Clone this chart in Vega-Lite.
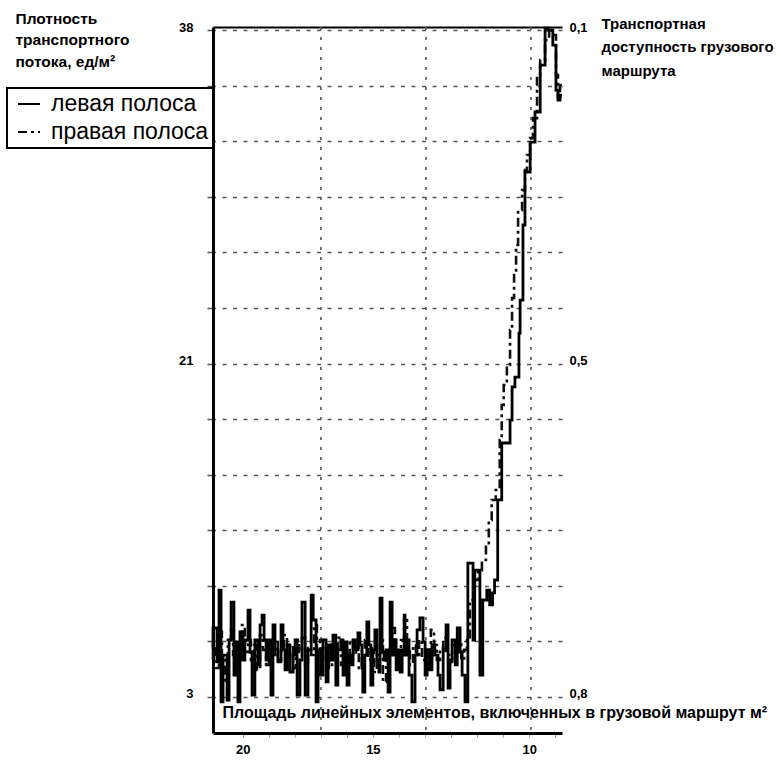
{
  "$schema": "https://vega.github.io/schema/vega-lite/v6.json",
  "width": 349,
  "height": 706,
  "autosize": {"type": "none"},
  "padding": {"left": 213, "top": 27, "right": 219, "bottom": 29},
  "background": "white",
  "config": {"view": {"stroke": null}, "font": "Liberation Sans"},
  "datasets": {
    "vgrid": [{"area": 17.25}, {"area": 13.59}, {"area": 9.93}],
    "lanes": [
      {"area": 21.01, "density": 5.47, "lane": "левая полоса"},
      {"area": 20.87, "density": 6.62, "lane": "левая полоса"},
      {"area": 20.80, "density": 4.84, "lane": "левая полоса"},
      {"area": 20.73, "density": 8.61, "lane": "левая полоса"},
      {"area": 20.66, "density": 2.74, "lane": "левая полоса"},
      {"area": 20.52, "density": 5.20, "lane": "левая полоса"},
      {"area": 20.45, "density": 2.84, "lane": "левая полоса"},
      {"area": 20.38, "density": 5.99, "lane": "левая полоса"},
      {"area": 20.28, "density": 7.98, "lane": "левая полоса"},
      {"area": 20.21, "density": 4.15, "lane": "левая полоса"},
      {"area": 20.14, "density": 5.89, "lane": "левая полоса"},
      {"area": 20.07, "density": 2.74, "lane": "левая полоса"},
      {"area": 19.97, "density": 6.41, "lane": "левая полоса"},
      {"area": 19.90, "density": 4.94, "lane": "левая полоса"},
      {"area": 19.79, "density": 5.99, "lane": "левая полоса"},
      {"area": 19.72, "density": 7.56, "lane": "левая полоса"},
      {"area": 19.65, "density": 5.36, "lane": "левая полоса"},
      {"area": 19.55, "density": 3.10, "lane": "левая полоса"},
      {"area": 19.44, "density": 5.99, "lane": "левая полоса"},
      {"area": 19.37, "density": 4.68, "lane": "левая полоса"},
      {"area": 19.30, "density": 6.78, "lane": "левая полоса"},
      {"area": 19.23, "density": 7.30, "lane": "левая полоса"},
      {"area": 19.16, "density": 5.99, "lane": "левая полоса"},
      {"area": 19.09, "density": 4.94, "lane": "левая полоса"},
      {"area": 18.99, "density": 5.99, "lane": "левая полоса"},
      {"area": 18.92, "density": 3.10, "lane": "левая полоса"},
      {"area": 18.85, "density": 6.78, "lane": "левая полоса"},
      {"area": 18.75, "density": 5.47, "lane": "левая полоса"},
      {"area": 18.64, "density": 4.94, "lane": "левая полоса"},
      {"area": 18.57, "density": 6.78, "lane": "левая полоса"},
      {"area": 18.50, "density": 5.47, "lane": "левая полоса"},
      {"area": 18.43, "density": 4.42, "lane": "левая полоса"},
      {"area": 18.33, "density": 5.73, "lane": "левая полоса"},
      {"area": 18.22, "density": 4.31, "lane": "левая полоса"},
      {"area": 18.15, "density": 5.20, "lane": "левая полоса"},
      {"area": 18.08, "density": 5.99, "lane": "левая полоса"},
      {"area": 17.98, "density": 3.10, "lane": "левая полоса"},
      {"area": 17.91, "density": 4.94, "lane": "левая полоса"},
      {"area": 17.80, "density": 7.98, "lane": "левая полоса"},
      {"area": 17.70, "density": 3.10, "lane": "левая полоса"},
      {"area": 17.59, "density": 5.47, "lane": "левая полоса"},
      {"area": 17.52, "density": 8.35, "lane": "левая полоса"},
      {"area": 17.42, "density": 7.04, "lane": "левая полоса"},
      {"area": 17.35, "density": 2.74, "lane": "левая полоса"},
      {"area": 17.25, "density": 5.47, "lane": "левая полоса"},
      {"area": 17.18, "density": 4.15, "lane": "левая полоса"},
      {"area": 17.07, "density": 5.99, "lane": "левая полоса"},
      {"area": 17.00, "density": 3.79, "lane": "левая полоса"},
      {"area": 16.90, "density": 5.73, "lane": "левая полоса"},
      {"area": 16.83, "density": 4.94, "lane": "левая полоса"},
      {"area": 16.73, "density": 6.25, "lane": "левая полоса"},
      {"area": 16.66, "density": 3.63, "lane": "левая полоса"},
      {"area": 16.55, "density": 5.47, "lane": "левая полоса"},
      {"area": 16.48, "density": 5.99, "lane": "левая полоса"},
      {"area": 16.41, "density": 4.15, "lane": "левая полоса"},
      {"area": 16.34, "density": 5.89, "lane": "левая полоса"},
      {"area": 16.27, "density": 3.63, "lane": "левая полоса"},
      {"area": 16.20, "density": 5.20, "lane": "левая полоса"},
      {"area": 16.13, "density": 4.68, "lane": "левая полоса"},
      {"area": 16.06, "density": 5.99, "lane": "левая полоса"},
      {"area": 15.96, "density": 5.47, "lane": "левая полоса"},
      {"area": 15.89, "density": 6.36, "lane": "левая полоса"},
      {"area": 15.82, "density": 5.73, "lane": "левая полоса"},
      {"area": 15.79, "density": 4.52, "lane": "левая полоса"},
      {"area": 15.72, "density": 3.26, "lane": "левая полоса"},
      {"area": 15.65, "density": 5.20, "lane": "левая полоса"},
      {"area": 15.58, "density": 6.94, "lane": "левая полоса"},
      {"area": 15.51, "density": 5.73, "lane": "левая полоса"},
      {"area": 15.44, "density": 3.63, "lane": "левая полоса"},
      {"area": 15.37, "density": 5.47, "lane": "левая полоса"},
      {"area": 15.30, "density": 6.52, "lane": "левая полоса"},
      {"area": 15.23, "density": 4.94, "lane": "левая полоса"},
      {"area": 15.19, "density": 4.31, "lane": "левая полоса"},
      {"area": 15.12, "density": 8.19, "lane": "левая полоса"},
      {"area": 15.05, "density": 5.36, "lane": "левая полоса"},
      {"area": 14.98, "density": 4.94, "lane": "левая полоса"},
      {"area": 14.91, "density": 5.47, "lane": "левая полоса"},
      {"area": 14.84, "density": 3.26, "lane": "левая полоса"},
      {"area": 14.77, "density": 7.98, "lane": "левая полоса"},
      {"area": 14.70, "density": 5.20, "lane": "левая полоса"},
      {"area": 14.63, "density": 5.99, "lane": "левая полоса"},
      {"area": 14.56, "density": 4.42, "lane": "левая полоса"},
      {"area": 14.49, "density": 5.47, "lane": "левая полоса"},
      {"area": 14.42, "density": 4.31, "lane": "левая полоса"},
      {"area": 14.35, "density": 5.47, "lane": "левая полоса"},
      {"area": 14.32, "density": 7.30, "lane": "левая полоса"},
      {"area": 14.25, "density": 5.20, "lane": "левая полоса"},
      {"area": 14.18, "density": 5.99, "lane": "левая полоса"},
      {"area": 14.08, "density": 4.15, "lane": "левая полоса"},
      {"area": 13.97, "density": 2.74, "lane": "левая полоса"},
      {"area": 13.90, "density": 5.20, "lane": "левая полоса"},
      {"area": 13.80, "density": 6.52, "lane": "левая полоса"},
      {"area": 13.69, "density": 7.15, "lane": "левая полоса"},
      {"area": 13.62, "density": 5.89, "lane": "левая полоса"},
      {"area": 13.55, "density": 4.15, "lane": "левая полоса"},
      {"area": 13.45, "density": 5.47, "lane": "левая полоса"},
      {"area": 13.38, "density": 4.42, "lane": "левая полоса"},
      {"area": 13.28, "density": 5.73, "lane": "левая полоса"},
      {"area": 13.17, "density": 5.20, "lane": "левая полоса"},
      {"area": 13.10, "density": 4.15, "lane": "левая полоса"},
      {"area": 12.99, "density": 3.37, "lane": "левая полоса"},
      {"area": 12.89, "density": 5.47, "lane": "левая полоса"},
      {"area": 12.82, "density": 6.78, "lane": "левая полоса"},
      {"area": 12.75, "density": 3.47, "lane": "левая полоса"},
      {"area": 12.68, "density": 4.94, "lane": "левая полоса"},
      {"area": 12.57, "density": 5.99, "lane": "левая полоса"},
      {"area": 12.50, "density": 4.68, "lane": "левая полоса"},
      {"area": 12.40, "density": 6.62, "lane": "левая полоса"},
      {"area": 12.33, "density": 5.36, "lane": "левая полоса"},
      {"area": 12.23, "density": 4.15, "lane": "левая полоса"},
      {"area": 12.13, "density": 2.74, "lane": "левая полоса"},
      {"area": 11.95, "density": 10.03, "lane": "левая полоса"},
      {"area": 11.89, "density": 5.99, "lane": "левая полоса"},
      {"area": 11.71, "density": 9.66, "lane": "левая полоса"},
      {"area": 11.61, "density": 4.15, "lane": "левая полоса"},
      {"area": 11.47, "density": 8.09, "lane": "левая полоса"},
      {"area": 11.37, "density": 8.61, "lane": "левая полоса"},
      {"area": 11.27, "density": 7.83, "lane": "левая полоса"},
      {"area": 11.20, "density": 8.46, "lane": "левая полоса"},
      {"area": 11.09, "density": 9.14, "lane": "левая полоса"},
      {"area": 10.95, "density": 13.34, "lane": "левая полоса"},
      {"area": 10.66, "density": 16.33, "lane": "левая полоса"},
      {"area": 10.59, "density": 17.53, "lane": "левая полоса"},
      {"area": 10.49, "density": 19.27, "lane": "левая полоса"},
      {"area": 10.35, "density": 19.79, "lane": "левая полоса"},
      {"area": 10.31, "density": 22.10, "lane": "левая полоса"},
      {"area": 10.21, "density": 23.83, "lane": "левая полоса"},
      {"area": 10.14, "density": 27.77, "lane": "левая полоса"},
      {"area": 9.96, "density": 30.55, "lane": "левая полоса"},
      {"area": 9.79, "density": 32.12, "lane": "левая полоса"},
      {"area": 9.61, "density": 33.70, "lane": "левая полоса"},
      {"area": 9.44, "density": 36.16, "lane": "левая полоса"},
      {"area": 9.34, "density": 38.10, "lane": "левая полоса"},
      {"area": 9.17, "density": 38.00, "lane": "левая полоса"},
      {"area": 9.06, "density": 37.21, "lane": "левая полоса"},
      {"area": 8.99, "density": 34.85, "lane": "левая полоса"},
      {"area": 8.92, "density": 34.33, "lane": "левая полоса"},
      {"area": 8.85, "density": 34.59, "lane": "левая полоса"},

      {"area": 21.01, "density": 4.94, "lane": "правая полоса"},
      {"area": 20.91, "density": 5.73, "lane": "правая полоса"},
      {"area": 20.80, "density": 4.52, "lane": "правая полоса"},
      {"area": 20.70, "density": 6.41, "lane": "правая полоса"},
      {"area": 20.59, "density": 4.94, "lane": "правая полоса"},
      {"area": 20.49, "density": 3.79, "lane": "правая полоса"},
      {"area": 20.38, "density": 5.99, "lane": "правая полоса"},
      {"area": 20.31, "density": 6.62, "lane": "правая полоса"},
      {"area": 20.21, "density": 5.20, "lane": "правая полоса"},
      {"area": 20.10, "density": 5.73, "lane": "правая полоса"},
      {"area": 20.00, "density": 4.94, "lane": "правая полоса"},
      {"area": 19.90, "density": 6.78, "lane": "правая полоса"},
      {"area": 19.79, "density": 5.36, "lane": "правая полоса"},
      {"area": 19.69, "density": 5.99, "lane": "правая полоса"},
      {"area": 19.58, "density": 4.94, "lane": "правая полоса"},
      {"area": 19.48, "density": 5.73, "lane": "правая полоса"},
      {"area": 19.37, "density": 4.42, "lane": "правая полоса"},
      {"area": 19.27, "density": 6.25, "lane": "правая полоса"},
      {"area": 19.16, "density": 5.47, "lane": "правая полоса"},
      {"area": 19.06, "density": 4.68, "lane": "правая полоса"},
      {"area": 18.95, "density": 5.73, "lane": "правая полоса"},
      {"area": 18.85, "density": 5.20, "lane": "правая полоса"},
      {"area": 18.75, "density": 5.99, "lane": "правая полоса"},
      {"area": 18.64, "density": 4.84, "lane": "правая полоса"},
      {"area": 18.54, "density": 5.57, "lane": "правая полоса"},
      {"area": 18.43, "density": 6.25, "lane": "правая полоса"},
      {"area": 18.33, "density": 5.05, "lane": "правая полоса"},
      {"area": 18.22, "density": 5.73, "lane": "правая полоса"},
      {"area": 18.12, "density": 4.52, "lane": "правая полоса"},
      {"area": 18.01, "density": 5.99, "lane": "правая полоса"},
      {"area": 17.91, "density": 5.36, "lane": "правая полоса"},
      {"area": 17.80, "density": 6.10, "lane": "правая полоса"},
      {"area": 17.70, "density": 4.68, "lane": "правая полоса"},
      {"area": 17.59, "density": 5.57, "lane": "правая полоса"},
      {"area": 17.49, "density": 5.20, "lane": "правая полоса"},
      {"area": 17.39, "density": 6.78, "lane": "правая полоса"},
      {"area": 17.28, "density": 5.36, "lane": "правая полоса"},
      {"area": 17.18, "density": 5.99, "lane": "правая полоса"},
      {"area": 17.07, "density": 4.84, "lane": "правая полоса"},
      {"area": 16.97, "density": 5.57, "lane": "правая полоса"},
      {"area": 16.86, "density": 4.52, "lane": "правая полоса"},
      {"area": 16.76, "density": 5.89, "lane": "правая полоса"},
      {"area": 16.66, "density": 5.20, "lane": "правая полоса"},
      {"area": 16.55, "density": 6.10, "lane": "правая полоса"},
      {"area": 16.45, "density": 4.68, "lane": "правая полоса"},
      {"area": 16.34, "density": 5.47, "lane": "правая полоса"},
      {"area": 16.24, "density": 4.94, "lane": "правая полоса"},
      {"area": 16.13, "density": 5.99, "lane": "правая полоса"},
      {"area": 16.03, "density": 5.20, "lane": "правая полоса"},
      {"area": 15.93, "density": 5.73, "lane": "правая полоса"},
      {"area": 15.82, "density": 4.52, "lane": "правая полоса"},
      {"area": 15.72, "density": 5.47, "lane": "правая полоса"},
      {"area": 15.61, "density": 5.99, "lane": "правая полоса"},
      {"area": 15.51, "density": 4.94, "lane": "правая полоса"},
      {"area": 15.40, "density": 5.57, "lane": "правая полоса"},
      {"area": 15.30, "density": 4.31, "lane": "правая полоса"},
      {"area": 15.19, "density": 5.20, "lane": "правая полоса"},
      {"area": 15.09, "density": 5.99, "lane": "правая полоса"},
      {"area": 14.98, "density": 3.79, "lane": "правая полоса"},
      {"area": 14.88, "density": 4.94, "lane": "правая полоса"},
      {"area": 14.77, "density": 5.73, "lane": "правая полоса"},
      {"area": 14.67, "density": 6.62, "lane": "правая полоса"},
      {"area": 14.56, "density": 5.20, "lane": "правая полоса"},
      {"area": 14.46, "density": 4.94, "lane": "правая полоса"},
      {"area": 14.35, "density": 5.99, "lane": "правая полоса"},
      {"area": 14.25, "density": 7.04, "lane": "правая полоса"},
      {"area": 14.15, "density": 5.47, "lane": "правая полоса"},
      {"area": 14.04, "density": 4.68, "lane": "правая полоса"},
      {"area": 13.94, "density": 5.73, "lane": "правая полоса"},
      {"area": 13.83, "density": 5.20, "lane": "правая полоса"},
      {"area": 13.73, "density": 5.99, "lane": "правая полоса"},
      {"area": 13.62, "density": 4.94, "lane": "правая полоса"},
      {"area": 13.52, "density": 5.47, "lane": "правая полоса"},
      {"area": 13.42, "density": 4.52, "lane": "правая полоса"},
      {"area": 13.31, "density": 6.52, "lane": "правая полоса"},
      {"area": 13.21, "density": 5.73, "lane": "правая полоса"},
      {"area": 13.10, "density": 4.94, "lane": "правая полоса"},
      {"area": 12.99, "density": 5.57, "lane": "правая полоса"},
      {"area": 12.89, "density": 6.10, "lane": "правая полоса"},
      {"area": 12.78, "density": 5.20, "lane": "правая полоса"},
      {"area": 12.68, "density": 4.84, "lane": "правая полоса"},
      {"area": 12.57, "density": 5.73, "lane": "правая полоса"},
      {"area": 12.47, "density": 5.36, "lane": "правая полоса"},
      {"area": 12.36, "density": 5.99, "lane": "правая полоса"},
      {"area": 12.26, "density": 4.94, "lane": "правая полоса"},
      {"area": 12.16, "density": 5.47, "lane": "правая полоса"},
      {"area": 12.06, "density": 5.99, "lane": "правая полоса"},
      {"area": 11.92, "density": 8.09, "lane": "правая полоса"},
      {"area": 11.78, "density": 9.14, "lane": "правая полоса"},
      {"area": 11.64, "density": 9.66, "lane": "правая полоса"},
      {"area": 11.50, "density": 10.19, "lane": "правая полоса"},
      {"area": 11.40, "density": 10.98, "lane": "правая полоса"},
      {"area": 11.30, "density": 12.29, "lane": "правая полоса"},
      {"area": 11.16, "density": 13.34, "lane": "правая полоса"},
      {"area": 11.02, "density": 13.86, "lane": "правая полоса"},
      {"area": 10.95, "density": 16.48, "lane": "правая полоса"},
      {"area": 10.88, "density": 18.32, "lane": "правая полоса"},
      {"area": 10.77, "density": 19.37, "lane": "правая полоса"},
      {"area": 10.66, "density": 20.42, "lane": "правая полоса"},
      {"area": 10.59, "density": 22.26, "lane": "правая полоса"},
      {"area": 10.52, "density": 23.94, "lane": "правая полоса"},
      {"area": 10.45, "density": 25.30, "lane": "правая полоса"},
      {"area": 10.38, "density": 26.72, "lane": "правая полоса"},
      {"area": 10.24, "density": 28.55, "lane": "правая полоса"},
      {"area": 10.14, "density": 29.60, "lane": "правая полоса"},
      {"area": 10.07, "density": 30.65, "lane": "правая полоса"},
      {"area": 9.96, "density": 31.44, "lane": "правая полоса"},
      {"area": 9.86, "density": 32.33, "lane": "правая полоса"},
      {"area": 9.72, "density": 33.38, "lane": "правая полоса"},
      {"area": 9.61, "density": 35.64, "lane": "правая полоса"},
      {"area": 9.44, "density": 36.42, "lane": "правая полоса"},
      {"area": 9.30, "density": 37.47, "lane": "правая полоса"},
      {"area": 9.20, "density": 38.10, "lane": "правая полоса"},
      {"area": 9.06, "density": 37.74, "lane": "правая полоса"},
      {"area": 8.99, "density": 35.64, "lane": "правая полоса"},
      {"area": 8.92, "density": 34.33, "lane": "правая полоса"},
      {"area": 8.85, "density": 35.11, "lane": "правая полоса"}
    ]
  },
  "layer": [
    {
      "data": {"name": "vgrid"},
      "mark": {"type": "rule", "stroke": "#555", "strokeWidth": 1.6, "strokeDash": [3, 7]},
      "encoding": {
        "x": {
          "field": "area", "type": "quantitative",
          "scale": {"domain": [8.85, 21.01], "reverse": true, "nice": false, "zero": false},
          "axis": {"orient": "top", "labels": false, "ticks": false, "grid": false, "title": null, "domain": true, "domainColor": "black", "domainWidth": 2}
        }
      }
    },
    {
      "data": {"name": "lanes"},
      "transform": [{"filter": "datum.lane == 'правая полоса'"}],
      "mark": {"type": "line", "interpolate": "step-before", "strokeWidth": 2.6, "color": "#111"},
      "encoding": {
        "x": {
          "field": "area", "type": "quantitative",
          "scale": {"domain": [8.85, 21.01], "reverse": true, "nice": false, "zero": false},
          "axis": {
            "orient": "bottom",
            "values": [19.97, 19.06, 18.15, 17.25, 16.34, 15.44, 14.53, 13.62, 12.71, 11.81, 10.90, 9.99, 9.09],
            "labelExpr": "datum.value > 19.5 && datum.value < 20.5 ? '20' : (datum.value > 15 && datum.value < 16 ? '15' : (datum.value > 9.5 && datum.value < 10.5 ? '10' : ''))",
            "grid": false, "domain": true, "domainColor": "black", "domainWidth": 3,
            "tickSize": 4, "tickColor": "#999", "tickWidth": 1,
            "labelFont": "Liberation Sans", "labelFontSize": 13, "labelFontWeight": "bold", "labelColor": "black",
            "labelPadding": 6, "labelFlush": false, "labelOverlap": false,
            "title": "Площадь линейных элементов, включенных в грузовой маршрут м²",
            "titleX": 9, "titleY": -21, "titleAlign": "left", "titleBaseline": "middle",
            "titleFont": "Liberation Sans", "titleFontSize": 16, "titleFontWeight": "bold", "titleColor": "black"
          }
        },
        "y": {
          "field": "density", "type": "quantitative",
          "scale": {"domain": [1.11, 38.16], "nice": false, "zero": false},
          "axis": {
            "orient": "right", "values": [3, 20.5, 38],
            "labelExpr": "datum.value == 38 ? '0,1' : (datum.value == 20.5 ? '0,5' : '0,8')",
            "grid": false, "domain": false, "ticks": false,
            "labelPadding": 7, "labelOffset": -3, "labelFlush": false,
            "labelFont": "Liberation Sans", "labelFontSize": 13, "labelFontWeight": "bold", "labelColor": "black",
            "title": ["Транспортная", "доступность грузового", "маршрута"],
            "titleAngle": 0, "titleAlign": "left", "titleBaseline": "top", "titleX": 39, "titleY": -11,
            "titleFont": "Liberation Sans", "titleFontSize": 15, "titleFontWeight": "bold", "titleColor": "black", "titleLineHeight": 23.5, "titleLimit": 300
          }
        },
        "strokeDash": {
          "field": "lane", "type": "nominal",
          "scale": {"domain": ["левая полоса", "правая полоса"], "range": [[1, 0], [9, 4, 3, 4]]},
          "legend": {
            "orient": "none", "legendX": -206, "legendY": 61, "title": null,
            "strokeColor": "black", "fillColor": "white", "padding": 4,
            "labelFont": "Liberation Sans", "labelFontSize": 23, "labelColor": "black", "labelLimit": 400,
            "symbolType": "stroke", "symbolSize": 484, "symbolStrokeWidth": 2, "symbolStrokeColor": "black",
            "symbolOffset": 6, "rowPadding": 4, "labelOffset": 10, "zindex": 2,
            "encode": {"legend": {"update": {"strokeWidth": {"value": 2}}}}
          }
        }
      }
    },
    {
      "data": {"name": "lanes"},
      "transform": [{"filter": "datum.lane == 'левая полоса'"}],
      "mark": {"type": "line", "interpolate": "step-before", "strokeWidth": 2.8, "color": "black"},
      "encoding": {
        "x": {
          "field": "area", "type": "quantitative",
          "scale": {"domain": [8.85, 21.01], "reverse": true, "nice": false, "zero": false},
          "axis": null
        },
        "y": {
          "field": "density", "type": "quantitative",
          "scale": {"domain": [1.11, 38.16], "nice": false, "zero": false},
          "axis": {
            "orient": "left",
            "values": [3, 5.9167, 8.8333, 11.75, 14.6667, 17.5833, 20.5, 23.4167, 26.3333, 29.25, 32.1667, 35.0833, 38],
            "labelExpr": "datum.value == 38 ? '38' : (datum.value == 20.5 ? '21' : (datum.value == 3 ? '3' : ''))",
            "grid": true, "gridDash": [4, 6.5], "gridColor": "#555", "gridWidth": 1.5,
            "domain": true, "domainColor": "black", "domainWidth": 3,
            "tickSize": 6, "tickColor": "#555", "tickWidth": 1.5,
            "labelPadding": 14, "labelOffset": -3, "labelFlush": false, "labelOverlap": false,
            "labelFont": "Liberation Sans", "labelFontSize": 13, "labelFontWeight": "bold", "labelColor": "black",
            "title": ["Плотность", "транспортного", "потока, ед/м²"],
            "titleAngle": 0, "titleAlign": "left", "titleBaseline": "top", "titleX": -198, "titleY": -16,
            "titleFont": "Liberation Sans", "titleFontSize": 15.5, "titleFontWeight": "bold", "titleColor": "black", "titleLineHeight": 21.5
          }
        },
        "strokeDash": {
          "field": "lane", "type": "nominal",
          "scale": {"domain": ["левая полоса", "правая полоса"], "range": [[1, 0], [9, 4, 3, 4]]},
          "legend": {
            "orient": "none", "legendX": -206, "legendY": 61, "title": null,
            "strokeColor": "black", "fillColor": "white", "padding": 4,
            "labelFont": "Liberation Sans", "labelFontSize": 23, "labelColor": "black", "labelLimit": 400,
            "symbolType": "stroke", "symbolSize": 484, "symbolStrokeWidth": 2, "symbolStrokeColor": "black",
            "symbolOffset": 6, "rowPadding": 4, "labelOffset": 10, "zindex": 2,
            "encode": {"legend": {"update": {"strokeWidth": {"value": 2}}}}
          }
        }
      }
    }
  ],
  "resolve": {"axis": {"x": "independent", "y": "independent"}}
}
